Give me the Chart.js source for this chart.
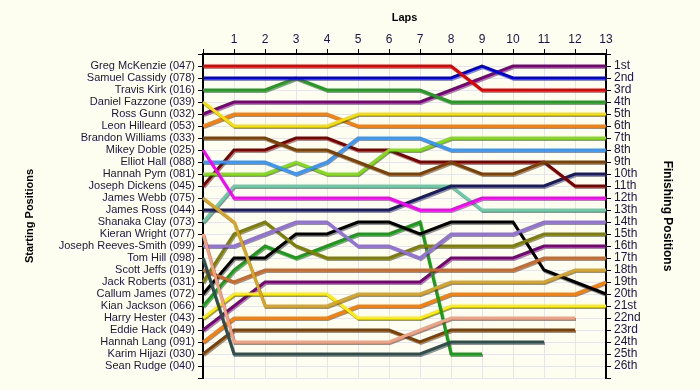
<!DOCTYPE html>
<html>
<head>
<meta charset="utf-8">
<script src="https://cdn.jsdelivr.net/npm/chart.js@4/dist/chart.umd.min.js"></script>
<style>
  html,body{margin:0;padding:0;background:#fdfdf0;}
  #wrap{width:700px;height:390px;}
</style>
</head>
<body>
<div id="wrap"><canvas id="lapChart" width="700" height="390"></canvas></div>
<script>
// Laps and positions
const laps = [0,1,2,3,4,5,6,7,8,9,10,11,12,13];
const drivers = ['Greg McKenzie (047)','Samuel Cassidy (078)','Travis Kirk (016)','Daniel Fazzone (039)',
  'Ross Gunn (032)','Leon Hilleard (053)','Brandon Williams (033)','Mikey Doble (025)','Elliot Hall (088)',
  'Hannah Pym (081)','Joseph Dickens (045)','James Webb (075)','James Ross (044)','Shanaka Clay (073)',
  'Kieran Wright (077)','Joseph Reeves-Smith (099)','Tom Hill (098)','Scott Jeffs (019)','Jack Roberts (031)',
  'Callum James (072)','Kian Jackson (066)','Harry Hester (043)','Eddie Hack (049)','Hannah Lang (091)',
  'Karim Hijazi (030)','Sean Rudge (040)'];
const finishLabels = ['1st','2nd','3rd','4th','5th','6th','7th','8th','9th','10th','11th','12th','13th',
  '14th','15th','16th','17th','18th','19th','20th','21st','22nd','23rd','24th','25th','26th'];

const greg      = [1,1,1,1,1,1,1,1,1,3,3,3,3,3];
const samuel    = [2,2,2,2,2,2,2,2,2,1,2,2,2,2];
const travis    = [3,3,3,2,3,3,3,3,4,4,4,4,4,4];
const daniel    = [4,6,6,6,6,5,5,5,5,5,5,5,5,5];
const ross      = [5,4,4,4,4,4,4,4,3,2,1,1,1,1];
const leon      = [6,5,5,5,5,6,6,6,6,6,6,6,6,6];
const brandon   = [7,7,7,8,8,9,10,10,9,10,10,9,9,9];
const mikey     = [8,12,12,12,12,12,12,13,13,12,12,12,12,12];
const elliot    = [9,9,9,10,9,7,7,7,8,8,8,8,8,8];
const hannahPym = [10,10,10,9,10,10,8,8,7,7,7,7,7,7];
const dickens   = [11,8,8,7,7,8,8,9,9,9,9,9,11,11];
const webb      = [12,14,21,21,21,20,20,20,19,19,19,19,18,18];
const jross     = [13,13,13,13,13,13,13,12,11,11,11,11,10,10];
const shanaka   = [14,11,11,11,11,11,11,11,11,13,13,13,13,13];
const kieran    = [15,24,24,24,24,24,24,23,22,22,22,22,22,null];
const reeves    = [16,16,15,14,14,16,16,17,15,15,15,14,14,14];
const tom       = [17,25,25,25,25,25,25,25,24,24,24,24,null,null];
const scott     = [18,19,18,18,18,18,18,18,18,18,18,17,17,17];
const jack      = [19,15,14,16,17,17,17,16,16,16,16,15,15,15];
const callum    = [20,17,17,15,15,14,14,15,14,14,14,18,19,20];
const kian      = [21,18,16,17,16,15,15,14,25,25,null,null,null,null];
const harry     = [22,20,20,20,20,22,22,22,21,21,21,21,21,21];
const eddie     = [23,21,19,19,19,19,19,19,17,17,17,16,16,16];
const hannahL   = [24,22,22,22,22,21,21,21,20,20,20,20,20,19];
const karim     = [25,23,23,23,23,23,23,24,23,23,23,23,23,null];

const series = [greg,samuel,travis,daniel,ross,leon,brandon,mikey,elliot,hannahPym,dickens,webb,jross,
  shanaka,kieran,reeves,tom,scott,jack,callum,kian,harry,eddie,hannahL,karim];
const colors = ['#e60000','#0000dd','#1f9e1f','#f7e000','#7f007f','#ff8000','#7f4000','#ff00ff','#3399ff',
  '#80e010','#800000','#daa520','#1a1a66','#66cdaa','#f5a080','#9370db','#2f4f4f','#cd6a28','#808000',
  '#000000','#14a014','#ffee00','#7f007f','#ff8000','#7f4000'];

const textCol = '#1c1440';

const shadow = {
  id:'shadow',
  beforeDatasetsDraw(chart){
    const c = chart.ctx; c.save();
    c.shadowColor = 'rgba(60,60,60,0.55)'; c.shadowOffsetX = 1; c.shadowOffsetY = 1.5; c.shadowBlur = 0;
  },
  afterDatasetsDraw(chart){ chart.ctx.restore(); }
};

const ctx = document.getElementById('lapChart').getContext('2d');
new Chart(ctx, {
  type:'line',
  data:{
    labels: laps,
    datasets: series.map((s,i)=>({
      label: drivers[i], data: s, borderColor: colors[i], borderWidth: 3,
      pointRadius: 0, tension: 0, fill: false, spanGaps: false, yAxisID: 'y'
    }))
  },
  options:{
    responsive:false, animation:false,
    layout:{padding:{left:0,right:0,top:0,bottom:12}},
    plugins:{legend:{display:false}, tooltip:{enabled:false}},
    scales:{
      x:{
        position:'top', offset:false,
        grid:{color:'#e6e6e6', tickColor:'#000', tickLength:5, lineWidth:1},
        border:{color:'#000', width:2},
        ticks:{color:textCol, font:{family:'Liberation Sans', size:12}, padding:2,
          autoSkip:false, maxRotation:0, callback:(v,i)=> i===0 ? '' : laps[i]},
        title:{display:true, text:'Laps', color:'#000', font:{family:'Liberation Sans', size:11, weight:'bold'}, padding:{top:11}},
        afterFit:(s)=>{ s.height = 54; }
      },
      y:{
        position:'left', reverse:true, min:0, max:27,
        grid:{color:'#e6e6e6', tickColor:'#000', tickLength:5},
        border:{color:'#000', width:2},
        ticks:{stepSize:1, autoSkip:false, color:textCol, padding:3, font:{family:'Liberation Sans', size:11},
          callback:(v)=> (v>=1 && v<=26) ? drivers[v-1] : ''},
        title:{display:true, text:'Starting Positions', color:'#000', font:{family:'Liberation Sans', size:11, weight:'bold'}, padding:{top:23}},
        afterFit:(s)=>{ s.width = 203; }
      },
      y2:{
        position:'right', reverse:true, min:0, max:27,
        grid:{drawOnChartArea:false, tickColor:'#000', tickLength:5},
        border:{color:'#000', width:2},
        ticks:{stepSize:1, autoSkip:false, color:textCol, padding:3, font:{family:'Liberation Sans', size:12},
          callback:(v)=> (v>=1 && v<=26) ? finishLabels[v-1] : ''},
        title:{display:true, text:'Finishing Positions', color:'#000', font:{family:'Liberation Sans', size:12, weight:'bold'}, padding:{top:25}},
        afterFit:(s)=>{ s.width = 94; }
      }
    }
  },
  plugins:[shadow]
});
</script>
</body>
</html>
